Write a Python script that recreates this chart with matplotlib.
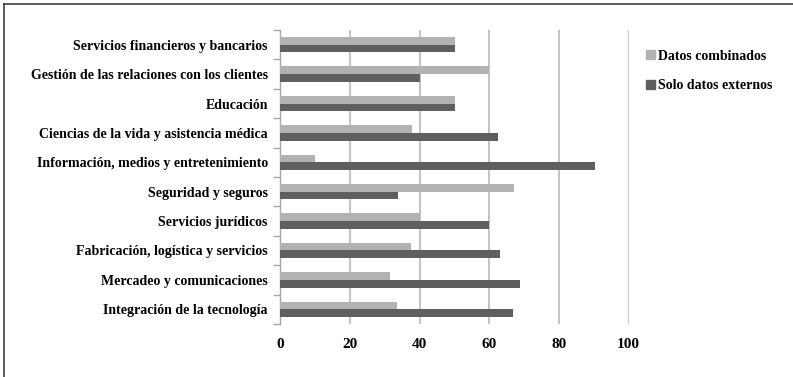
import numpy as np
import matplotlib; matplotlib.use('Agg')
from matplotlib import pyplot as plt
from matplotlib.lines import Line2D
from matplotlib.patches import Patch

############## DATA ################

categories = ['Servicios financieros y bancarios',
              'Gestión de las relaciones con los clientes',
              'Educación',
              'Ciencias de la vida y asistencia médica',
              'Información, medios y entretenimiento',
              'Seguridad y seguros',
              'Servicios jurídicos',
              'Fabricación, logística y servicios',
              'Mercadeo y comunicaciones',
              'Integración de la tecnología']
combinados = [50, 60, 50, 37.8, 10, 67, 40, 37.5, 31.4, 33.4]
externos = [50, 40, 50, 62.5, 90.3, 33.8, 60, 63, 68.8, 66.8]
xticks = [0, 20, 40, 60, 80, 100]

############## PLOT ################

plt.rcParams['font.family'] = ['Liberation Serif', 'DejaVu Serif']
plt.rcParams['font.weight'] = 'bold'

light = '#b2b2b2'
dark = '#5f5f5f'

fig = plt.figure(figsize=(7.93, 3.77), dpi=100)
ax = fig.add_axes([0.3535, 0.1406, 0.4393, 0.7798])

# first category at the top
y = np.arange(len(categories))[::-1]
h = 0.26
ax.barh(y + h / 2, combinados, height=h, color=light, zorder=3)
ax.barh(y - h / 2, externos, height=h, color=dark, zorder=3)

ax.set_xlim(0, 100)
ax.set_ylim(-0.5, len(categories) - 0.5)
ax.set_xticks(xticks)
ax.set_xticklabels(xticks, fontsize=11, fontweight='bold')
ax.tick_params(axis='x', length=0, pad=10)
ax.xaxis.grid(True, color='#c4c4c4', linewidth=1.5, zorder=0)

ax.set_yticks(y)
ax.set_yticklabels(categories, fontsize=10, fontweight='bold')
ax.set_yticks(np.arange(-0.5, len(categories)), minor=True)
ax.tick_params(axis='y', which='major', length=0, pad=9)
ax.tick_params(axis='y', which='minor', length=5, width=1, color='#a6a6a6')

for s in ['top', 'right', 'bottom']:
    ax.spines[s].set_visible(False)
ax.spines['left'].set_color('#a6a6a6')
ax.spines['left'].set_linewidth(1)

handles = [Patch(color=light, label='Datos combinados'),
           Patch(color=dark, label='Solo datos externos')]
fig.legend(handles=handles, loc='upper left', bbox_to_anchor=(0.807, 0.883),
           frameon=False, fontsize=10, handlelength=0.65, handleheight=0.65,
           handletextpad=0.25, labelspacing=1.2, borderaxespad=0)

# outer frame (top and left edges)
fig.add_artist(Line2D([0.005, 1], [0.989, 0.989], color='#404040', linewidth=1.2))
fig.add_artist(Line2D([0.005, 0.005], [0, 0.989], color='#404040', linewidth=1.2))

plt.savefig('out.png', dpi=100)
plt.close()
